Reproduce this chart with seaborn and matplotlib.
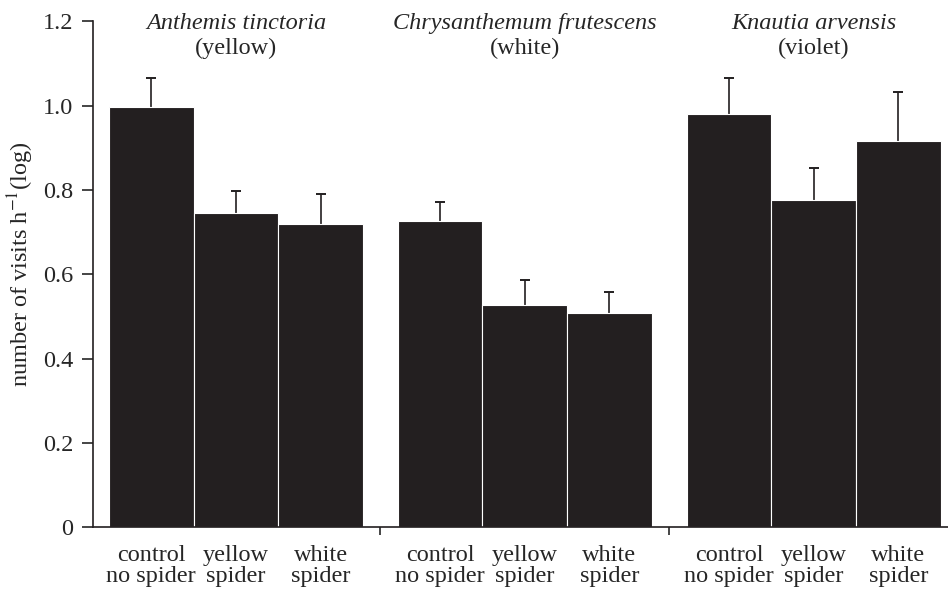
import pandas as pd
import matplotlib.pyplot as plt
import seaborn as sns

# values (log visits per hour, upper SE)
species = ['Anthemis tinctoria', 'Chrysanthemum frutescens', 'Knautia arvensis']
flower_colour = ['(yellow)', '(white)', '(violet)']
treatments = ['control\nno spider', 'yellow\nspider', 'white\nspider']
anthemis = [0.996, 0.746, 0.718]
chrysanthemum = [0.725, 0.526, 0.507]
knautia = [0.979, 0.775, 0.915]
anthemis_se = [0.069, 0.051, 0.072]
chrysanthemum_se = [0.046, 0.060, 0.050]
knautia_se = [0.087, 0.077, 0.118]

data = pd.DataFrame({
    'species': [s for s in species for _ in treatments],
    'treatment': treatments * 3,
    'visits': anthemis + chrysanthemum + knautia,
    'se': anthemis_se + chrysanthemum_se + knautia_se,
})

sns.set_style('ticks')
plt.rcParams['font.family'] = ['Liberation Serif', 'DejaVu Serif']
plt.rcParams['mathtext.fontset'] = 'stix'

bar_colour = '#231f20'
fs = 17.5

fig = plt.figure(figsize=(9.48, 5.89), dpi=100)
ax = fig.add_axes([0.098, 0.105, 0.902, 0.859])

sns.barplot(data=data, x='species', y='visits', hue='treatment',
            hue_order=treatments, order=species,
            palette=[bar_colour] * 3, saturation=1, width=0.879,
            errorbar=None, edgecolor='white', linewidth=0.8,
            legend=False, ax=ax)

# one-sided error bars: stem from bar top, cap only at the upper end
bars = [p for p in ax.patches if p.get_height() > 0]
bars.sort(key=lambda p: p.get_x())
centres = [p.get_x() + p.get_width() / 2 for p in bars]
heights = [p.get_height() for p in bars]
se = data['se'].tolist()
tops = [h + e for h, e in zip(heights, se)]
ax.errorbar(centres, heights, yerr=[[0] * len(se), se], fmt='none',
            ecolor=bar_colour, elinewidth=1.2, capsize=0, zorder=0.5)
ax.plot(centres, tops, ls='none', marker='_', markersize=7,
        markeredgewidth=1.4, color=bar_colour)

ax.set_ylim(0, 1.2)
ax.set_xlim(-0.495, 2.465)
ax.set_yticks([0, 0.2, 0.4, 0.6, 0.8, 1.0, 1.2])
ax.set_yticklabels(['0', '0.2', '0.4', '0.6', '0.8', '1.0', '1.2'])

# group separator ticks (major) and bar labels (minor)
ax.set_xticks([0.5, 1.5])
ax.set_xticklabels(['', ''])
ax.set_xticks(centres, minor=True)
ax.set_xticklabels(treatments * 3, minor=True, linespacing=1.0)
ax.tick_params(axis='x', which='minor', length=0, pad=13, labelsize=fs)
ax.tick_params(axis='x', which='major', length=6, width=1.2, direction='out')
ax.tick_params(axis='y', length=8, width=1.2, pad=6, labelsize=fs)

ax.set_xlabel('')
ax.set_ylabel('number of visits h$^{-1}$(log)', fontsize=fs)
ax.yaxis.set_label_coords(-0.067, 0.52)

for i, (name, col) in enumerate(zip(species, flower_colour)):
    ax.text(i, 1.195, name, style='italic', fontsize=fs,
            ha='center', va='center', clip_on=False)
    ax.text(i, 1.135, col, fontsize=fs, ha='center', va='center')

sns.despine(ax=ax)
for side in ['left', 'bottom']:
    ax.spines[side].set_linewidth(1.2)
    ax.spines[side].set_color('#231f20')

fig.savefig('out.png', dpi=100)
